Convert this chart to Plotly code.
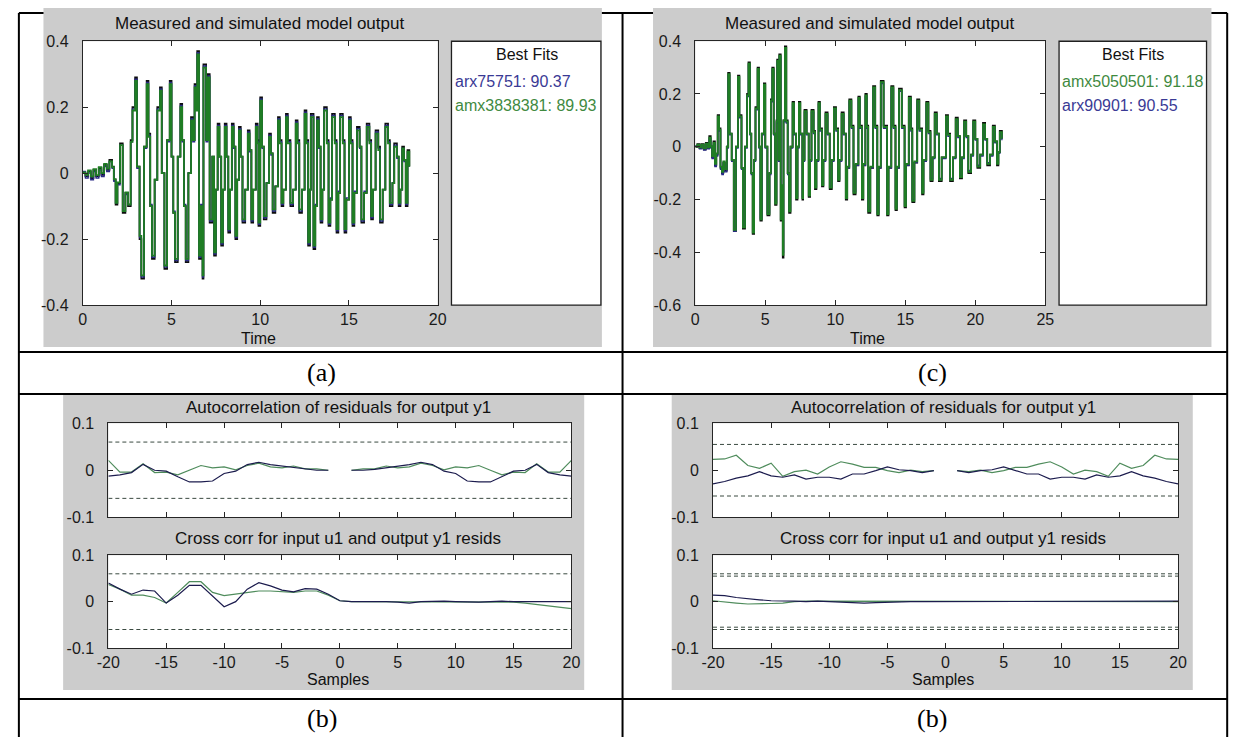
import plotly.graph_objects as go

# ---------------- DATA ----------------
# (a) Measured and simulated model output, time in seconds
t_a = [0.0, 0.15, 0.3, 0.45, 0.6, 0.75, 0.9, 1.05, 1.2, 1.35,
       1.5, 1.65, 1.75, 1.85, 1.95, 2.1, 2.25, 2.4, 2.55, 2.7,
       2.8, 2.95, 3.05, 3.2, 3.3, 3.45, 3.6, 3.7, 3.8, 3.9,
       4.05, 4.2, 4.35, 4.45, 4.6, 4.75, 4.9, 5.0, 5.1, 5.2,
       5.35, 5.5, 5.6, 5.7, 5.8, 5.95, 6.1, 6.2, 6.3, 6.4,
       6.45, 6.55, 6.65, 6.75, 6.8, 6.95, 7.05, 7.15, 7.3, 7.4,
       7.5, 7.6, 7.7, 7.8, 7.9, 8.0, 8.1, 8.2, 8.3, 8.4,
       8.5, 8.6, 8.7, 8.8, 8.9, 9.0, 9.15, 9.3, 9.4, 9.5,
       9.6, 9.75, 9.85, 9.9, 10.0, 10.1, 10.2, 10.35, 10.5, 10.6,
       10.7, 10.85, 11.0, 11.1, 11.2, 11.3, 11.45, 11.55, 11.7, 11.85,
       12.0, 12.1, 12.2, 12.35, 12.5, 12.6, 12.7, 12.8, 12.85, 13.0,
       13.1, 13.2, 13.3, 13.4, 13.5, 13.6, 13.75, 13.85, 13.95, 14.05,
       14.2, 14.3, 14.4, 14.5, 14.65, 14.75, 14.85, 15.0, 15.1, 15.2,
       15.3, 15.45, 15.6, 15.7, 15.85, 16.0, 16.15, 16.25, 16.35, 16.5,
       16.65, 16.75, 16.9, 17.05, 17.2, 17.3, 17.45, 17.55, 17.7, 17.8,
       17.9, 18.0, 18.1, 18.2, 18.3, 18.4]
meas_a = [0.0, -0.01, 0.005, -0.015, 0.01, -0.01, 0.015, -0.005, 0.025, 0.01,
          0.04, 0.02, -0.02, -0.095, -0.03, 0.09, -0.12, -0.06, -0.1, 0.1,
          0.2, 0.29, 0.02, -0.2, -0.32, 0.08, 0.28, 0.12, -0.1, -0.26,
          -0.02, 0.2, 0.26, 0.0, -0.29, 0.1, 0.28, 0.05, -0.12, -0.27,
          0.05, 0.21, 0.1, -0.1, -0.27, 0.0, 0.17, 0.1, 0.27, 0.2,
          0.37, -0.26, -0.1, -0.32, 0.33, 0.1, 0.3, -0.15, 0.05, -0.25,
          -0.05, 0.15, 0.05, -0.22, -0.05, 0.15, 0.05, -0.18, -0.05, 0.15,
          0.08, -0.2, -0.02, 0.14, 0.05, -0.15, -0.05, 0.13, 0.07, -0.15,
          -0.05, 0.15, 0.1, -0.16, 0.23, 0.08, -0.14, -0.03, 0.12, 0.06,
          -0.12, -0.04, 0.17, 0.1, -0.1, -0.05, 0.18, 0.1, -0.1, -0.05,
          0.16, 0.1, -0.12, -0.05, 0.19, 0.1, -0.22, -0.05, 0.18, -0.23,
          -0.1, 0.17, 0.08, -0.15, -0.05, 0.2, 0.1, -0.16, -0.08, 0.18,
          0.1, -0.18, -0.06, 0.18, 0.1, -0.18, -0.08, 0.17, 0.1, -0.16,
          -0.06, 0.14, 0.08, -0.15, -0.06, 0.15, 0.1, -0.14, -0.05, 0.13,
          0.08, -0.15, -0.05, 0.15, 0.1, -0.1, -0.03, 0.09, 0.05, -0.1,
          -0.05, 0.08, 0.04, -0.1, 0.07, 0.02]
arx_a = [0.005, -0.015, 0.0, -0.02, 0.005, -0.015, 0.01, -0.01, 0.02, 0.005,
         0.035, 0.015, -0.025, -0.09, -0.035, 0.085, -0.115, -0.065, -0.095, 0.095,
         0.195, 0.285, 0.015, -0.195, -0.315, 0.075, 0.275, 0.115, -0.095, -0.255,
         -0.02, 0.195, 0.255, 0.0, -0.285, 0.095, 0.275, 0.05, -0.115, -0.265,
         0.05, 0.205, 0.095, -0.095, -0.265, 0.0, 0.165, 0.095, 0.265, 0.195,
         0.365, -0.255, -0.095, -0.315, 0.325, 0.095, 0.295, -0.145, 0.05, -0.245,
         -0.05, 0.145, 0.05, -0.215, -0.05, 0.145, 0.05, -0.175, -0.05, 0.145,
         0.075, -0.195, -0.02, 0.135, 0.05, -0.145, -0.05, 0.125, 0.065, -0.145,
         -0.05, 0.145, 0.095, -0.155, 0.225, 0.075, -0.135, -0.03, 0.115, 0.055,
         -0.115, -0.04, 0.165, 0.095, -0.095, -0.05, 0.175, 0.095, -0.095, -0.05,
         0.155, 0.095, -0.115, -0.05, 0.185, 0.095, -0.215, -0.05, 0.175, -0.225,
         -0.095, 0.165, 0.075, -0.145, -0.05, 0.195, 0.095, -0.155, -0.075, 0.175,
         0.095, -0.175, -0.055, 0.175, 0.095, -0.175, -0.075, 0.165, 0.095, -0.155,
         -0.055, 0.135, 0.075, -0.145, -0.055, 0.145, 0.095, -0.135, -0.05, 0.125,
         0.075, -0.145, -0.05, 0.145, 0.095, -0.095, -0.03, 0.085, 0.045, -0.095,
         -0.05, 0.075, 0.035, -0.095, 0.065, 0.02]
amx_a = [0.002, -0.005, 0.008, -0.01, 0.012, -0.006, 0.018, 0.0, 0.028, 0.014,
         0.036, 0.018, -0.018, -0.09, -0.028, 0.085, -0.115, -0.058, -0.095, 0.095,
         0.19, 0.28, 0.02, -0.19, -0.31, 0.08, 0.27, 0.11, -0.1, -0.25,
         -0.02, 0.19, 0.25, 0.0, -0.28, 0.1, 0.27, 0.05, -0.12, -0.26,
         0.05, 0.2, 0.1, -0.1, -0.26, 0.0, 0.16, 0.1, 0.26, 0.19,
         0.36, -0.25, -0.1, -0.31, 0.32, 0.1, 0.29, -0.14, 0.05, -0.24,
         -0.05, 0.14, 0.05, -0.21, -0.05, 0.14, 0.05, -0.17, -0.05, 0.14,
         0.08, -0.19, -0.02, 0.13, 0.05, -0.14, -0.05, 0.12, 0.07, -0.14,
         -0.05, 0.14, 0.09, -0.15, 0.22, 0.08, -0.13, -0.03, 0.11, 0.06,
         -0.11, -0.04, 0.16, 0.09, -0.09, -0.05, 0.17, 0.09, -0.09, -0.05,
         0.15, 0.09, -0.11, -0.05, 0.18, 0.09, -0.21, -0.05, 0.17, -0.22,
         -0.1, 0.16, 0.08, -0.14, -0.05, 0.19, 0.09, -0.15, -0.08, 0.17,
         0.09, -0.17, -0.06, 0.17, 0.09, -0.17, -0.08, 0.16, 0.09, -0.15,
         -0.06, 0.13, 0.08, -0.14, -0.06, 0.14, 0.09, -0.13, -0.05, 0.12,
         0.07, -0.14, -0.05, 0.14, 0.09, -0.09, -0.03, 0.08, 0.05, -0.09,
         -0.05, 0.075, 0.04, -0.09, 0.065, 0.02]

# (c) Measured and simulated model output
t_c = [0.0, 0.15, 0.3, 0.45, 0.6, 0.75, 0.9, 1.0, 1.1, 1.2,
       1.3, 1.4, 1.5, 1.6, 1.7, 1.8, 1.9, 2.0, 2.1, 2.25,
       2.35, 2.45, 2.6, 2.75, 2.9, 3.05, 3.15, 3.3, 3.4, 3.55,
       3.7, 3.8, 3.9, 4.0, 4.1, 4.2, 4.3, 4.45, 4.55, 4.65,
       4.75, 4.9, 5.0, 5.15, 5.3, 5.4, 5.5, 5.6, 5.7, 5.8,
       5.85, 5.95, 6.0, 6.1, 6.2, 6.25, 6.3, 6.4, 6.5, 6.6,
       6.7, 6.8, 6.95, 7.05, 7.2, 7.3, 7.4, 7.5, 7.65, 7.7,
       7.8, 7.95, 8.1, 8.2, 8.3, 8.45, 8.55, 8.65, 8.8, 8.9,
       9.05, 9.15, 9.3, 9.45, 9.6, 9.75, 9.9, 10.05, 10.2, 10.3,
       10.45, 10.6, 10.75, 10.85, 11.0, 11.15, 11.3, 11.45, 11.65, 11.75,
       11.9, 12.0, 12.15, 12.25, 12.35, 12.5, 12.7, 12.85, 13.0, 13.1,
       13.25, 13.45, 13.7, 13.8, 14.0, 14.15, 14.3, 14.4, 14.55, 14.75,
       14.95, 15.05, 15.25, 15.4, 15.5, 15.65, 15.85, 16.0, 16.2, 16.3,
       16.5, 16.65, 16.8, 16.95, 17.1, 17.25, 17.4, 17.6, 17.9, 18.05,
       18.2, 18.4, 18.6, 18.75, 18.9, 19.05, 19.2, 19.35, 19.5, 19.7,
       19.85, 20.0, 20.15, 20.35, 20.55, 20.7, 20.85, 21.05, 21.25, 21.4,
       21.55, 21.65, 21.75, 21.9]
meas_c = [0.0, 0.01, -0.005, 0.01, -0.01, 0.015, -0.005, 0.04, 0.0, -0.04,
          0.02, -0.07, -0.03, 0.12, 0.07, -0.08, -0.1, -0.06, -0.09, 0.0,
          0.28, 0.05, -0.05, -0.32, 0.0, 0.27, 0.12, -0.08, -0.31, 0.0,
          0.2, 0.32, 0.05, -0.1, -0.33, -0.05, 0.15, 0.3, 0.0, -0.28,
          0.05, 0.24, 0.0, -0.26, -0.1, 0.18, 0.3, 0.05, -0.22, 0.1,
          0.33, -0.05, 0.35, -0.28, -0.15, -0.42, 0.1, 0.38, 0.1, -0.1,
          -0.25, 0.0, 0.17, 0.05, -0.2, 0.0, 0.17, 0.05, -0.2, -0.05,
          0.14, 0.05, -0.19, -0.05, 0.14, 0.06, -0.16, -0.05, 0.17, 0.07,
          -0.15, -0.05, 0.13, 0.05, -0.16, -0.05, 0.15, 0.07, -0.13, -0.05,
          0.13, 0.05, -0.2, -0.08, 0.18, 0.08, -0.18, -0.07, 0.19, 0.08,
          -0.2, -0.07, 0.2, 0.08, -0.25, -0.08, 0.23, 0.08, -0.26, -0.08,
          0.25, 0.08, -0.26, -0.08, 0.23, 0.08, -0.24, -0.08, 0.22, 0.08,
          -0.23, -0.07, 0.19, 0.07, -0.21, -0.06, 0.18, 0.07, -0.18, -0.05,
          0.17, 0.06, -0.13, -0.04, 0.13, 0.05, -0.13, -0.04, 0.12, 0.05,
          -0.13, -0.04, 0.11, 0.04, -0.12, -0.04, 0.1, 0.04, -0.1, -0.03,
          0.1, 0.03, -0.08, -0.03, 0.09, 0.03, -0.07, -0.03, 0.08, 0.02,
          -0.07, -0.02, 0.06, 0.03]
amx_c = [0.002, 0.008, -0.002, 0.008, -0.006, 0.012, -0.002, 0.035, 0.002, -0.035,
         0.015, -0.065, -0.025, 0.115, 0.065, -0.075, -0.095, -0.055, -0.085, 0.0,
         0.275, 0.05, -0.05, -0.315, 0.0, 0.265, 0.115, -0.08, -0.305, 0.0,
         0.195, 0.315, 0.05, -0.1, -0.325, -0.05, 0.145, 0.295, 0.0, -0.275,
         0.05, 0.235, 0.0, -0.255, -0.1, 0.175, 0.295, 0.05, -0.215, 0.095,
         0.325, -0.05, 0.345, -0.275, -0.145, -0.41, 0.1, 0.375, 0.095, -0.1,
         -0.245, 0.0, 0.165, 0.05, -0.195, 0.0, 0.165, 0.05, -0.195, -0.05,
         0.135, 0.05, -0.185, -0.05, 0.135, 0.055, -0.155, -0.05, 0.165, 0.065,
         -0.145, -0.05, 0.125, 0.05, -0.155, -0.05, 0.145, 0.065, -0.125, -0.05,
         0.125, 0.05, -0.195, -0.075, 0.175, 0.075, -0.175, -0.065, 0.185, 0.075,
         -0.195, -0.065, 0.195, 0.075, -0.245, -0.075, 0.225, 0.075, -0.255, -0.075,
         0.245, 0.075, -0.255, -0.075, 0.225, 0.075, -0.235, -0.075, 0.215, 0.075,
         -0.225, -0.065, 0.185, 0.065, -0.205, -0.055, 0.175, 0.065, -0.175, -0.05,
         0.165, 0.055, -0.125, -0.04, 0.125, 0.05, -0.125, -0.04, 0.115, 0.045,
         -0.125, -0.04, 0.105, 0.04, -0.115, -0.04, 0.095, 0.04, -0.095, -0.03,
         0.095, 0.03, -0.075, -0.03, 0.085, 0.03, -0.065, -0.03, 0.075, 0.02,
         -0.065, -0.02, 0.055, 0.03]
arx_c = [0.004, 0.006, -0.008, 0.006, -0.012, 0.01, -0.008, 0.03, -0.004, -0.045,
         0.01, -0.075, -0.035, 0.11, 0.06, -0.085, -0.105, -0.065, -0.095, -0.005,
         0.27, 0.045, -0.055, -0.32, -0.005, 0.26, 0.11, -0.085, -0.3, -0.005,
         0.19, 0.31, 0.045, -0.105, -0.32, -0.055, 0.14, 0.29, -0.005, -0.27,
         0.045, 0.23, -0.005, -0.25, -0.105, 0.17, 0.29, 0.045, -0.21, 0.09,
         0.32, -0.055, 0.34, -0.27, -0.15, -0.4, 0.095, 0.37, 0.09, -0.105,
         -0.24, -0.005, 0.16, 0.045, -0.19, -0.005, 0.16, 0.045, -0.19, -0.055,
         0.13, 0.045, -0.18, -0.055, 0.13, 0.05, -0.15, -0.055, 0.16, 0.06,
         -0.14, -0.055, 0.12, 0.045, -0.15, -0.055, 0.14, 0.06, -0.12, -0.055,
         0.12, 0.045, -0.19, -0.08, 0.17, 0.07, -0.17, -0.07, 0.18, 0.07,
         -0.19, -0.07, 0.19, 0.07, -0.24, -0.08, 0.22, 0.07, -0.25, -0.08,
         0.24, 0.07, -0.25, -0.08, 0.22, 0.07, -0.23, -0.08, 0.21, 0.07,
         -0.22, -0.07, 0.18, 0.06, -0.2, -0.06, 0.17, 0.06, -0.17, -0.055,
         0.16, 0.05, -0.12, -0.045, 0.12, 0.045, -0.12, -0.045, 0.11, 0.04,
         -0.12, -0.045, 0.1, 0.035, -0.11, -0.045, 0.09, 0.035, -0.09, -0.035,
         0.09, 0.025, -0.07, -0.035, 0.08, 0.025, -0.06, -0.035, 0.07, 0.015,
         -0.06, -0.025, 0.05, 0.025]

# Correlation plots: lags
lags = [-20, -19, -18, -17, -16, -15, -14, -13, -12, -11, -10, -9, -8, -7, -6, -5, -4, -3, -2, -1, 0,
        1, 2, 3, 4, 5, 6, 7, 8, 9, 10, 11, 12, 13, 14, 15, 16, 17, 18, 19, 20]

# (b) left: autocorrelation of residuals (lag 0 not shown)
acf_b1_arx = [-0.0125, -0.01, -0.005, 0.0125, 0.0, -0.002, -0.014, -0.025, -0.025, -0.023,
              -0.007, -0.002, 0.012, 0.017, 0.012, 0.009, 0.005, 0.002, 0.0, 0.0, None,
              0.0, 0.0, 0.002, 0.005, 0.009, 0.012, 0.017, 0.012, -0.002, -0.007,
              -0.023, -0.025, -0.025, -0.014, -0.002, 0.0, 0.0125, -0.005, -0.01, -0.0125]
acf_b1_amx = [0.021, -0.004, -0.004, 0.014, -0.005, -0.004, -0.01, 0.0, 0.01, 0.005,
              0.007, 0.001, 0.01, 0.015, 0.007, 0.005, 0.009, 0.003, 0.003, 0.0, None,
              0.0, 0.003, 0.003, 0.009, 0.005, 0.007, 0.015, 0.01, 0.001, 0.007,
              0.005, 0.01, 0.0, -0.01, -0.004, -0.005, 0.014, -0.004, -0.004, 0.021]
ccf_b1_arx = [0.04, 0.027, 0.016, 0.025, 0.023, -0.003, 0.014, 0.035, 0.035, 0.011,
              -0.011, 0.0, 0.027, 0.041, 0.034, 0.025, 0.021, 0.028, 0.027, 0.016, 0.002,
              0.0, 0.0, 0.001, 0.0, -0.001, -0.003, 0.0, 0.001, 0.001, 0.0,
              -0.001, -0.001, 0.0, 0.001, 0.0, 0.0, 0.0, 0.0, 0.0, 0.0]
ccf_b1_amx = [0.037, 0.027, 0.014, 0.014, 0.009, -0.003, 0.02, 0.043, 0.043, 0.02,
              0.013, 0.016, 0.02, 0.023, 0.023, 0.021, 0.02, 0.023, 0.023, 0.014, 0.002,
              0.0, 0.0, 0.0, 0.0, 0.0, 0.0, 0.0, 0.0, 0.0, 0.0,
              0.0, 0.0, 0.0, 0.0, -0.001, -0.003, -0.006, -0.009, -0.013, -0.015]
conf_b1_acf = [0.06]
conf_b1_ccf = [0.06]

# (b) right
acf_b2_arx = [-0.029, -0.024, -0.017, -0.012, -0.003, -0.012, -0.015, -0.010, -0.019, -0.015,
              -0.015, -0.019, -0.008, -0.008, -0.001, 0.007, 0.001, -0.001, -0.005, -0.001, None,
              -0.001, -0.005, -0.001, 0.001, 0.007, -0.001, -0.008, -0.008, -0.019, -0.015,
              -0.015, -0.019, -0.010, -0.015, -0.012, -0.003, -0.012, -0.017, -0.024, -0.029]
acf_b2_amx = [0.023, 0.024, 0.032, 0.010, 0.004, 0.015, -0.013, -0.003, 0.0, -0.008,
              0.007, 0.018, 0.013, 0.006, 0.006, -0.001, -0.005, 0.0, -0.003, -0.001, None,
              -0.001, -0.003, 0.0, -0.005, -0.001, 0.006, 0.006, 0.013, 0.018, 0.007,
              -0.008, 0.0, -0.003, -0.013, 0.015, 0.004, 0.010, 0.032, 0.024, 0.023]
ccf_b2_arx = [0.014, 0.013, 0.009, 0.006, 0.004, 0.002, 0.002, 0.001, 0.0, 0.001,
              0.0, -0.001, -0.003, -0.003, -0.002, -0.001, -0.001, 0.0, 0.0, 0.0, 0.0,
              0.0, 0.0, 0.0, 0.0, 0.0, 0.0, 0.0, 0.0, 0.0, 0.0,
              0.0, 0.0, 0.0, 0.0, 0.0, 0.0, 0.0, 0.001, 0.001, 0.001]
ccf_b2_amx = [0.002, -0.001, -0.003, -0.005, -0.005, -0.004, -0.003, 0.0, 0.001, 0.001,
              0.001, 0.0, 0.0, 0.0, 0.0, 0.0, 0.0, 0.0, 0.0, 0.0, 0.0,
              0.0, 0.0, 0.0, 0.0, 0.0, 0.0, 0.0, 0.0, 0.0, 0.0,
              0.0, 0.0, 0.0, 0.0, 0.0, 0.0, 0.0, 0.0, 0.0, 0.0]
conf_b2_acf = [0.055]
conf_b2_ccf = [0.06, 0.055]

for a, b in [(t_a, meas_a), (t_a, arx_a), (t_a, amx_a), (t_c, meas_c), (t_c, amx_c), (t_c, arx_c),
             (lags, acf_b1_arx), (lags, acf_b1_amx), (lags, ccf_b1_arx), (lags, ccf_b1_amx),
             (lags, acf_b2_arx), (lags, acf_b2_amx), (lags, ccf_b2_arx), (lags, ccf_b2_amx)]:
    assert len(a) == len(b), (len(a), len(b))

# ---------------- STYLE / LAYOUT ----------------
W, H = 1247, 746
def fx(px): return px / W
def fy(py): return 1 - py / H

C_MEAS = "#0d0d0d"
C_BLUE = "#2a2a86"
C_GREEN = "#1f7d24"
C_BLUE_R = "#1c1c4e"
C_GREEN_R = "#4f8c5c"
C_DASH = "#3a4a40"
GRAY = "#cccccc"
SANS = "Liberation Sans, Arial, sans-serif"
SERIF = "Liberation Serif, Times New Roman, serif"

shapes = []
def hline(x0, x1, y, w=2):
    shapes.append(dict(type="line", xref="paper", yref="paper", x0=fx(x0), x1=fx(x1),
                       y0=fy(y), y1=fy(y), line=dict(color="black", width=w), layer="below"))
def vline(x, y0, y1, w=2):
    shapes.append(dict(type="line", xref="paper", yref="paper", x0=fx(x), x1=fx(x),
                       y0=fy(y0), y1=fy(y1), line=dict(color="black", width=w), layer="below"))
def rect(x0, y0, x1, y1, fill, lc=None, lw=0):
    shapes.append(dict(type="rect", xref="paper", yref="paper", x0=fx(x0), x1=fx(x1),
                       y0=fy(y1), y1=fy(y0), fillcolor=fill,
                       line=dict(color=lc if lc else fill, width=lw), layer="below"))

# table grid
for y in [5, 352, 395, 707]:
    hline(7, 1236, y)
vline(7, 5, 746)
vline(621, 5, 746)
vline(1236, 5, 746)

# gray figure panels
rect(32, 0, 600, 347, GRAY)
rect(652, 0, 1220, 347, GRAY)
rect(52, 396, 582, 698, GRAY)
rect(671, 396, 1201, 698, GRAY)

# white plot areas
AX = {
    "a":  (72, 433, 34, 304),
    "c":  (695, 1051, 34, 304),
    "b1u": (98, 569, 425, 521),
    "b1l": (98, 569, 560, 655),
    "b2u": (713, 1186, 425, 521),
    "b2l": (713, 1186, 560, 655),
}
for k, (x0, x1, y0, y1) in AX.items():
    rect(x0, y0, x1, y1, "white")
# legend boxes
rect(447, 34, 599, 304, "white", "#202020", 1.3)
rect(1065, 34, 1215, 304, "white", "#202020", 1.3)

fig = go.Figure()

def axis_style(px0, px1, vertical=False, **kw):
    if vertical:
        dom = [fy(px1), fy(px0)]
    else:
        dom = [fx(px0), fx(px1)]
    d = dict(domain=dom, showline=True, linecolor="#262626", linewidth=1, mirror="ticks",
             ticks="inside", ticklen=5, tickcolor="#262626", showgrid=False, zeroline=False,
             tickfont=dict(family=SANS, size=16, color="#1a1a1a"), fixedrange=True)
    d.update(kw)
    return d

def fmt(v):
    return "%g" % v

layout_axes = {}
names = ["a", "c", "b1u", "b1l", "b2u", "b2l"]
xticks = {"a": [0, 5, 10, 15, 20], "c": [0, 5, 10, 15, 20, 25]}
yticks = {"a": [-0.4, -0.2, 0, 0.2, 0.4], "c": [-0.6, -0.4, -0.2, 0, 0.2, 0.4]}
lag_ticks = [-20, -15, -10, -5, 0, 5, 10, 15, 20]
corr_ticks = [-0.1, 0, 0.1]
for i, k in enumerate(names, start=1):
    x0, x1, y0, y1 = AX[k]
    xs = "xaxis" if i == 1 else "xaxis%d" % i
    ys = "yaxis" if i == 1 else "yaxis%d" % i
    if k in ("a", "c"):
        xt = xticks[k]
        yt = yticks[k]
        show_x = True
    else:
        xt = lag_ticks
        yt = corr_ticks
        show_x = k.endswith("l")
    layout_axes[xs] = axis_style(x0, x1, range=[xt[0], xt[-1]], tickvals=xt, ticktext=[fmt(v) for v in xt],
                                 showticklabels=show_x, anchor="y" if i == 1 else "y%d" % i)
    layout_axes[ys] = axis_style(y0, y1, vertical=True, range=[yt[0], yt[-1]], tickvals=yt,
                                 ticktext=[fmt(v) for v in yt], ticklabelstandoff=10,
                                 anchor="x" if i == 1 else "x%d" % i)

def ax_ref(i):
    return ("x" if i == 1 else "x%d" % i), ("y" if i == 1 else "y%d" % i)

# (a)
xa, ya = ax_ref(1)
fig.add_trace(go.Scatter(x=t_a, y=meas_a, mode="lines", line=dict(color=C_MEAS, width=1.8, shape="hv"),
                         xaxis=xa, yaxis=ya, name="measured"))
fig.add_trace(go.Scatter(x=t_a, y=arx_a, mode="lines", line=dict(color=C_BLUE, width=1.4, shape="hv"),
                         xaxis=xa, yaxis=ya, name="arx75751"))
fig.add_trace(go.Scatter(x=t_a, y=amx_a, mode="lines", line=dict(color=C_GREEN, width=1.8, shape="hv"),
                         xaxis=xa, yaxis=ya, name="amx3838381"))
# (c)
xc, yc = ax_ref(2)
fig.add_trace(go.Scatter(x=t_c, y=meas_c, mode="lines", line=dict(color=C_MEAS, width=1.8, shape="hv"),
                         xaxis=xc, yaxis=yc, name="measured"))
fig.add_trace(go.Scatter(x=t_c, y=arx_c, mode="lines", line=dict(color=C_BLUE, width=1.4, shape="hv"),
                         xaxis=xc, yaxis=yc, name="arx90901"))
fig.add_trace(go.Scatter(x=t_c, y=amx_c, mode="lines", line=dict(color=C_GREEN, width=1.8, shape="hv"),
                         xaxis=xc, yaxis=yc, name="amx5050501"))

def corr_panel(i, blue, green, confs):
    xr, yr = ax_ref(i)
    for c in confs:
        for s in (1, -1):
            fig.add_trace(go.Scatter(x=[lags[0], lags[-1]], y=[s * c, s * c], mode="lines",
                                     line=dict(color=C_DASH, width=1, dash="4px,3px"),
                                     xaxis=xr, yaxis=yr, hoverinfo="skip"))
    fig.add_trace(go.Scatter(x=lags, y=green, mode="lines", line=dict(color=C_GREEN_R, width=1.2),
                             xaxis=xr, yaxis=yr, connectgaps=False))
    fig.add_trace(go.Scatter(x=lags, y=blue, mode="lines", line=dict(color=C_BLUE_R, width=1.2),
                             xaxis=xr, yaxis=yr, connectgaps=False))

corr_panel(3, acf_b1_arx, acf_b1_amx, conf_b1_acf)
corr_panel(4, ccf_b1_arx, ccf_b1_amx, conf_b1_ccf)
corr_panel(5, acf_b2_arx, acf_b2_amx, conf_b2_acf)
corr_panel(6, ccf_b2_arx, ccf_b2_amx, conf_b2_ccf)

# ---------------- TEXT ----------------
ann = []
def text(px, py, s, size=17, color="#111111", family=SANS, xanchor="center"):
    ann.append(dict(x=fx(px), y=fy(py), xref="paper", yref="paper", text=s, showarrow=False,
                    xanchor=xanchor, yanchor="middle", font=dict(family=family, size=size, color=color)))

text(252, 16, "Measured and simulated model output")
text(872, 16, "Measured and simulated model output")
text(251, 338, "Time", size=16)
text(870, 338, "Time", size=16)
text(524, 48, "Best Fits", size=16)
text(449, 75, "arx75751: 90.37", size=16, color="#3a3a95", xanchor="left")
text(449, 100, "amx3838381: 89.93", size=16, color="#3f8a3f", xanchor="left")
text(1140, 48, "Best Fits", size=16)
text(1066, 75, "amx5050501: 91.18", size=16, color="#3f8a3f", xanchor="left")
text(1066, 100, "arx90901: 90.55", size=16, color="#3a3a95", xanchor="left")
text(332, 409, "Autocorrelation of residuals for output y1")
text(332, 543, "Cross corr for input u1 and output y1 resids")
text(332, 687, "Samples", size=16)
text(947, 409, "Autocorrelation of residuals for output y1")
text(947, 543, "Cross corr for input u1 and output y1 resids")
text(947, 687, "Samples", size=16)
text(315, 373, "(a)", size=26, color="black", family=SERIF)
text(936, 373, "(c)", size=26, color="black", family=SERIF)
text(315, 727, "(b)", size=26, color="black", family=SERIF)
text(936, 727, "(b)", size=26, color="black", family=SERIF)

fig.update_layout(width=W, height=H, margin=dict(l=0, r=0, t=0, b=0, pad=0),
                  paper_bgcolor="white", plot_bgcolor="white", showlegend=False,
                  shapes=shapes, annotations=ann, **layout_axes)

# pin the figure to the top-left corner of the window
fig.write_html(
    "out.html", config={"displayModeBar": False},
    post_script=(
        "var d=document.getElementById('{plot_id}');"
        "document.documentElement.style.margin='0';document.documentElement.style.padding='0';"
        "document.body.style.margin='0';document.body.style.padding='0';"
        "document.body.style.overflow='hidden';"
        "d.style.position='fixed';d.style.left='0px';d.style.top='0px';"
    ),
)
